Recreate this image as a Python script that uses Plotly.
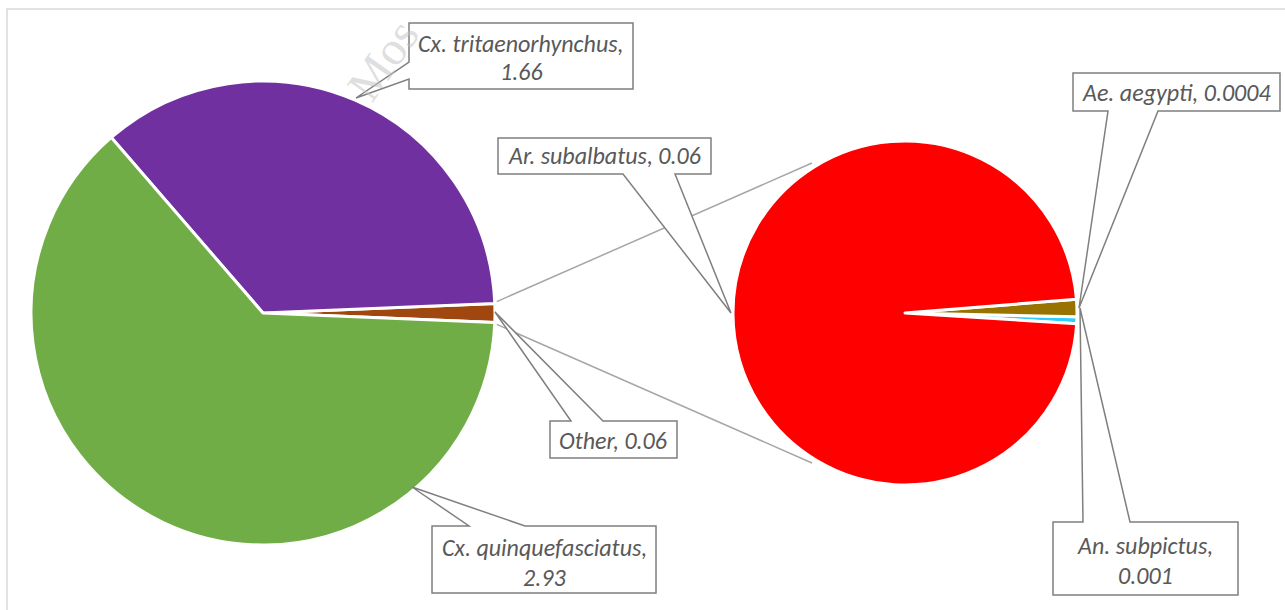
import math
import plotly.graph_objects as go

# ---------------- data ----------------
main_labels = ["Other", "Cx. tritaenorhynchus", "Cx. quinquefasciatus"]
main_values = [0.06, 1.66, 2.93]
main_colors = ["#A0470F", "#7030A0", "#70AD47"]

sub_labels = ["Ae. aegypti", "An. subpictus", "Ar. subalbatus"]
sub_values = [0.0004, 0.001, 0.06]
sub_colors = ["#33CCFF", "#997300", "#FF0000"]

W, H = 1285, 610


def px(x):
    return x / W


def py(y):
    return 1 - y / H


# pie geometry (pixels)
L_C, L_R = (263, 313), 232
R_C, R_R = (905, 313), 172

# plotly (counterclockwise): first slice lies between rotation and rotation + its angle (clockwise from 12 o'clock)
other_deg = main_values[0] / sum(main_values) * 360
main_rot = 90 - other_deg / 2
sub_rot = 91.25

fig = go.Figure()
fig.add_trace(go.Pie(
    labels=main_labels, values=main_values, sort=False, direction="counterclockwise",
    rotation=main_rot, textinfo="none", hoverinfo="label+value",
    marker=dict(colors=main_colors, line=dict(color="white", width=3)),
    domain=dict(x=[px(L_C[0] - L_R), px(L_C[0] + L_R)], y=[py(L_C[1] + L_R), py(L_C[1] - L_R)]),
    showlegend=False,
))
fig.add_trace(go.Pie(
    labels=sub_labels, values=sub_values, sort=False, direction="counterclockwise",
    rotation=sub_rot, textinfo="none", hoverinfo="label+value",
    marker=dict(colors=sub_colors, line=dict(color="white", width=3)),
    domain=dict(x=[px(R_C[0] - R_R), px(R_C[0] + R_R)], y=[py(R_C[1] + R_R), py(R_C[1] - R_R)]),
    showlegend=False,
))

shapes = []
annotations = []

# chart border
shapes.append(dict(type="rect", xref="paper", yref="paper", x0=px(7), x1=px(W + 5), y0=py(H + 5), y1=py(9),
                   line=dict(color="#D9D9D9", width=1.5), fillcolor="rgba(0,0,0,0)", layer="below"))

# connector lines between the pies
half = math.radians(other_deg / 2)
for sgn, ry in ((1, 163), (-1, 463)):
    lx = L_C[0] + L_R * math.cos(half) + 2
    ly = L_C[1] - sgn * L_R * math.sin(half) - sgn * 2
    shapes.append(dict(type="line", xref="paper", yref="paper", x0=px(lx), y0=py(ly), x1=px(812), y1=py(ry),
                       line=dict(color="#A6A6A6", width=1.5)))


def callout(box, side, base, tip):
    x0, y0, x1, y1 = box
    b1, b2 = base
    tx, ty = tip
    if side == "left":
        pts = [(x0, y0), (x1, y0), (x1, y1), (x0, y1), (x0, b2), (tx, ty), (x0, b1)]
    elif side == "bottom":
        pts = [(x0, y0), (x1, y0), (x1, y1), (b2, y1), (tx, ty), (b1, y1), (x0, y1)]
    else:  # top
        pts = [(x0, y0), (b1, y0), (tx, ty), (b2, y0), (x1, y0), (x1, y1), (x0, y1)]
    path = "M " + " L ".join(f"{px(a):.5f},{py(b):.5f}" for a, b in pts) + " Z"
    shapes.append(dict(type="path", xref="paper", yref="paper", path=path,
                       fillcolor="white", line=dict(color="#7F7F7F", width=1.5), layer="above"))


FONT = dict(family="Carlito, Lato, 'Open Sans', sans-serif", size=24, color="#595959")


def text(x, y, s):
    annotations.append(dict(x=px(x), y=py(y), xref="paper", yref="paper", text=f"<i>{s}</i>",
                            showarrow=False, font=FONT, xanchor="center", yanchor="middle"))


# faint watermark fragment
annotations.append(dict(x=px(382), y=py(60), xref="paper", yref="paper", text="Mos", showarrow=False,
                        xanchor="center", yanchor="middle", textangle=-55,
                        font=dict(family="Liberation Serif", size=48, color="rgba(195,195,195,0.55)")))

# main pie callouts
callout((409, 23, 633, 89), "left", (62, 79), (356, 98))
text(521, 43, f"{main_labels[1]},")
text(521, 72, f"{main_values[1]:.2f}")

callout((550, 421, 677, 458), "top", (571, 603), (495, 312))
text(613, 440, f"{main_labels[0]}, {main_values[0]:.2f}")

callout((432, 526, 656, 593), "top", (469, 525), (412, 487))
text(544, 547, f"{main_labels[2]},")
text(544, 577, f"{main_values[2]:.2f}")

# sub pie callouts
callout((498, 138, 711, 174), "bottom", (623, 675), (731, 313))
text(604, 156, f"{sub_labels[2]}, {sub_values[2]:.2f}")

callout((1073, 73, 1280, 111), "bottom", (1108, 1158), (1079, 308))
text(1176, 92, f"{sub_labels[0]}, {sub_values[0]:.4f}")

callout((1053, 522, 1238, 595), "top", (1083, 1130), (1080, 308))
text(1145, 545, f"{sub_labels[1]},")
text(1145, 575, f"{sub_values[1]:.3f}")

fig.update_layout(
    width=W, height=H, margin=dict(l=0, r=0, t=0, b=0),
    paper_bgcolor="white", plot_bgcolor="white",
    shapes=shapes, annotations=annotations, showlegend=False,
)

fig.write_html("out.html", config={"displayModeBar": False},
               post_script="document.body.style.margin='0px';document.body.style.overflow='hidden';")
